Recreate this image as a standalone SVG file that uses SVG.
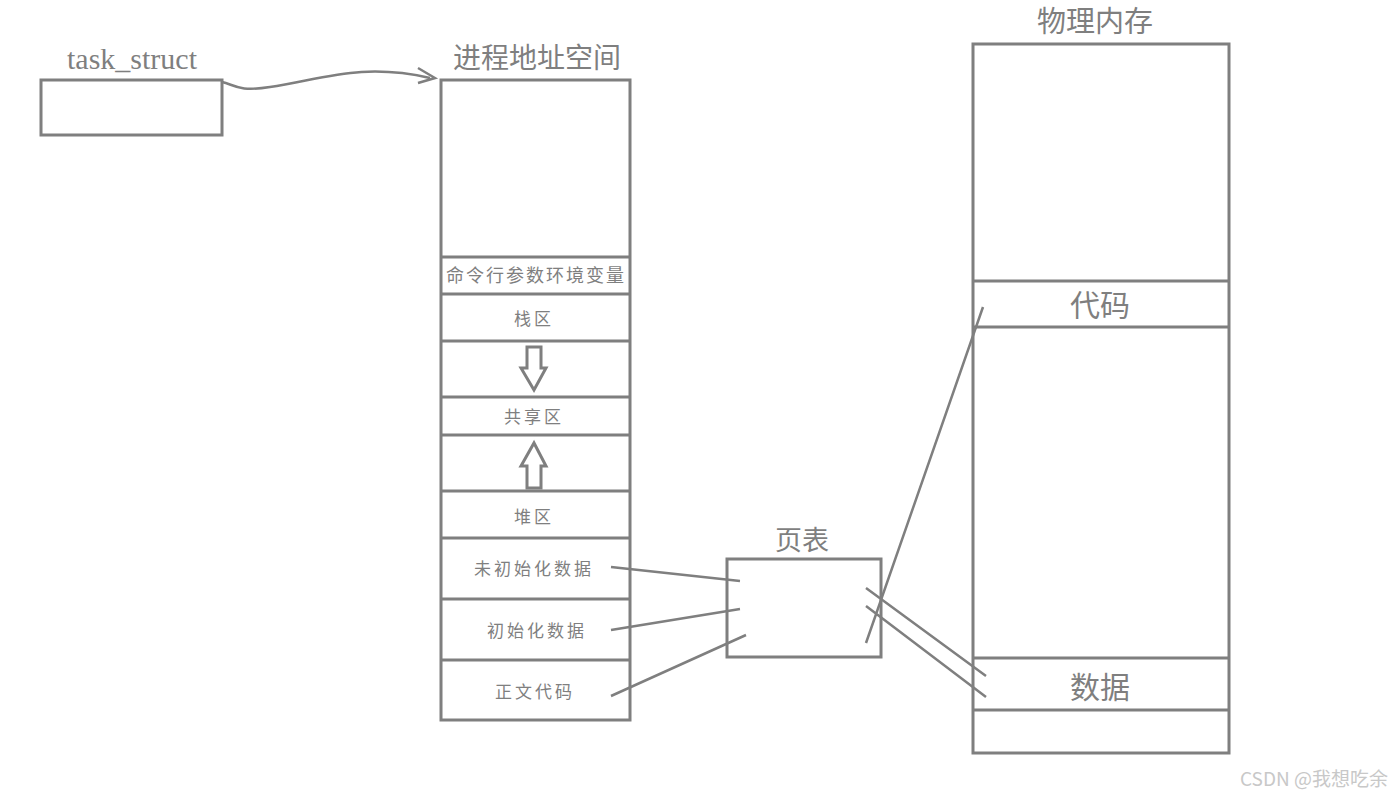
<svg xmlns="http://www.w3.org/2000/svg" width="1393" height="805" viewBox="0 0 1393 805">
<style>
.b{fill:none;stroke:#7f7f7f;stroke-width:3}
.l{fill:none;stroke:#7f7f7f;stroke-width:2.5}
.t{fill:#7f7f7f;font-family:"Liberation Serif","Noto Sans CJK SC",serif;text-anchor:middle}
</style>
<rect width="1393" height="805" fill="#fff"/>
<g id="task_struct"><rect class="b" x="41" y="80" width="181" height="55"/><text class="t" x="132" y="69" font-size="30">task_struct</text></g>
<g id="address_space">
<text class="t" x="537" y="68" font-size="28">进程地址空间</text>
<rect class="b" x="441" y="80" width="189" height="640"/>
<path class="b" d="M441 257H630M441 294H630M441 341H630M441 397H630M441 435H630M441 491H630M441 538H630M441 599H630M441 660H630"/>
<text class="t" x="536" y="282" font-size="18" letter-spacing="2">命令行参数环境变量</text>
<text class="t" x="534" y="325" font-size="17" letter-spacing="3">栈区</text>
<text class="t" x="534" y="423" font-size="17" letter-spacing="3">共享区</text>
<text class="t" x="534" y="523" font-size="17" letter-spacing="3">堆区</text>
<text class="t" x="534" y="575" font-size="17" letter-spacing="3">未初始化数据</text>
<text class="t" x="537" y="637" font-size="17" letter-spacing="3">初始化数据</text>
<text class="t" x="535" y="698" font-size="17" letter-spacing="3">正文代码</text>
<path class="b" d="M527 347H541V368H546L534 390L521 368H527Z"/>
<path class="b" d="M527 488H541V466H546L534 443L521 466H527Z"/>
</g>
<g id="page_table"><text class="t" x="802" y="550" font-size="27">页表</text><rect class="b" x="727" y="559" width="154" height="98"/></g>
<g id="physical_memory">
<text class="t" x="1095" y="32" font-size="29">物理内存</text>
<rect class="b" x="973" y="44" width="256" height="709"/>
<path class="b" d="M973 281H1229M973 327H1229M973 658H1229M973 710H1229"/>
<text class="t" x="1100" y="316" font-size="30">代码</text>
<text class="t" x="1100" y="698" font-size="30">数据</text>
</g>
<g id="connectors">
<path class="l" d="M222 82C235 85 238 92 270 87C320 80 360 62 430 78"/>
<path class="l" d="M418 68L435 78L418 83"/>
<path class="l" d="M611 567L740 581M611 630L740 609M611 696L746 635M866 643L983 307M866 588L986 676M866 606L986 697"/>
</g>
<text x="1388" y="786" font-family="'Noto Sans CJK SC',sans-serif" font-size="19" fill="#c8c8c8" text-anchor="end">CSDN @我想吃余</text>
</svg>
